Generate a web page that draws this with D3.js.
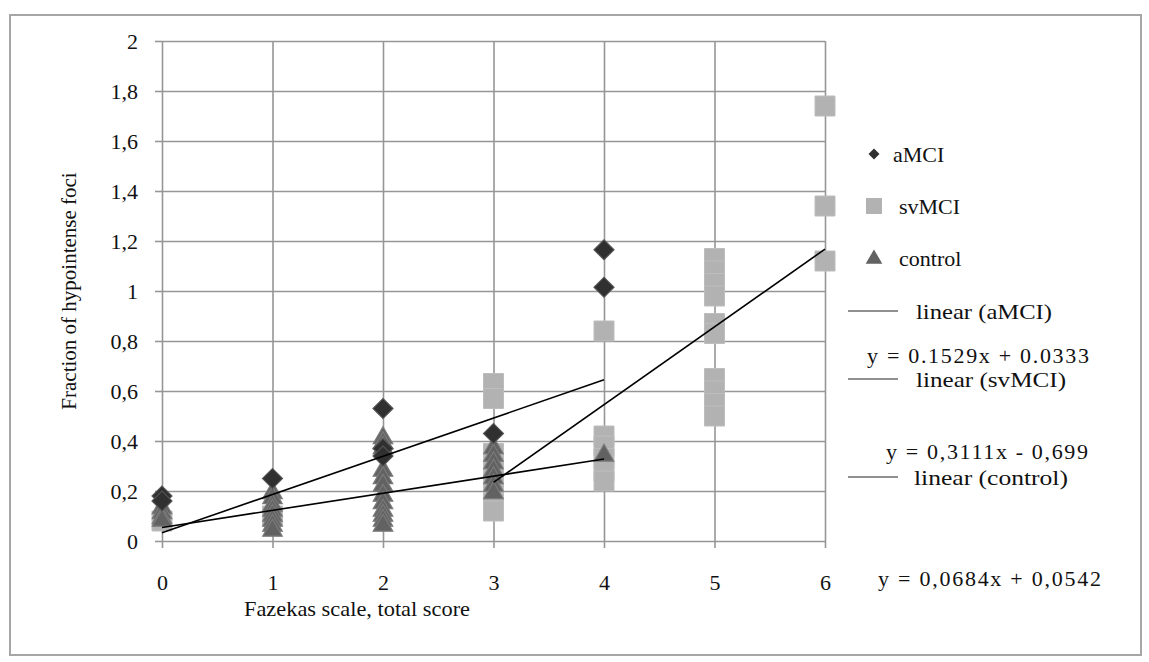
<!DOCTYPE html>
<html><head><meta charset="utf-8">
<script src="https://cdn.jsdelivr.net/npm/d3@7"></script>
<style>body{margin:0;background:#fff;} svg{display:block;} text{font-family:"Liberation Serif","Times New Roman",serif;fill:#111;}</style>
</head><body>
<svg id="c" width="1149" height="662"></svg>
<script>
const xTicks = [0,1,2,3,4,5,6];
const yTicks = [0,0.2,0.4,0.6,0.8,1,1.2,1.4,1.6,1.8,2];
const yTickLabels = ["0","0,2","0,4","0,6","0,8","1","1,2","1,4","1,6","1,8","2"];
const seriesNames = ["aMCI","svMCI","control"];
// [x, y] points per group
const aMCI = [[0,0.18],[0,0.16],[1,0.25],[2,0.53],[2,0.37],[2,0.34],[3,0.43],[4,1.165],[4,1.015]];
const svMCI = [[0,0.08],[1,0.10],[3,0.63],[3,0.57],[3,0.35],[3,0.30],[3,0.25],[3,0.20],[3,0.15],[3,0.12],
  [4,0.84],[4,0.42],[4,0.38],[4,0.33],[4,0.28],[4,0.24],
  [5,1.13],[5,1.08],[5,1.03],[5,0.98],[5,0.87],[5,0.83],[5,0.65],[5,0.60],[5,0.55],[5,0.50],
  [6,1.74],[6,1.34],[6,1.12]];
const control = [[0,0.14],[0,0.12],[0,0.10],[0,0.09],
  [1,0.20],[1,0.18],[1,0.15],[1,0.13],[1,0.11],[1,0.09],[1,0.07],[1,0.05],
  [2,0.42],[2,0.40],[2,0.38],[2,0.29],[2,0.26],[2,0.23],[2,0.19],[2,0.16],[2,0.13],[2,0.11],[2,0.09],[2,0.07],
  [3,0.38],[3,0.35],[3,0.32],[3,0.29],[3,0.26],[3,0.23],[3,0.20],[4,0.35]];
// trend lines: slope, intercept, x range
const trendNames = ["linear (aMCI)","linear (svMCI)","linear (control)"];
const trendEq = ["y = 0.1529x + 0.0333","y = 0,3111x - 0,699","y = 0,0684x + 0,0542"];
const trendSlope = [0.1529, 0.3111, 0.0684];
const trendIntercept = [0.0333, -0.699, 0.0542];
const trendRange = [[0,4],[3,6],[0,4]];

const svg = d3.select("#c");
const x = d3.scaleLinear().domain([0,6]).range([162,825]);
const y = d3.scaleLinear().domain([0,2]).range([541,41]);

// outer frame
svg.append("rect").attr("x",10).attr("y",15).attr("width",1131).attr("height",640)
  .attr("fill","none").attr("stroke","#a6a6a6").attr("stroke-width",2);

// grid
const gy = svg.append("g").attr("transform","translate(162,0)")
  .call(d3.axisLeft(y).tickValues(yTicks).tickSize(7).tickFormat((d,i)=>yTickLabels[i]));
gy.attr("font-family",null);
gy.select(".domain").remove();
gy.selectAll("line").attr("stroke","#969696").attr("stroke-width",1.6).attr("x2",-7);
gy.selectAll(".tick").append("line").attr("x1",0).attr("x2",663).attr("stroke","#969696").attr("stroke-width",1.6);
gy.selectAll("text").attr("x",-24).attr("dy","0.35em").style("font-size","22px");

const gx = svg.append("g").attr("transform","translate(0,541)")
  .call(d3.axisBottom(x).tickValues(xTicks).tickSize(7).tickFormat(d3.format("d")));
gx.attr("font-family",null);
gx.select(".domain").remove();
gx.selectAll("line").attr("stroke","#969696").attr("stroke-width",1.6);
gx.selectAll(".tick").append("line").attr("y1",0).attr("y2",-500).attr("stroke","#969696").attr("stroke-width",1.6);
gx.selectAll("text").attr("y",41).attr("dy","0.35em").style("font-size","22px");

// markers
const diamond = d3.symbol().type(d3.symbolSquare).size(200);
const square = d3.symbol().type(d3.symbolSquare).size(400);
const tri = d3.symbol().type(d3.symbolTriangle).size(165);

svg.append("g").selectAll("path").data(svMCI).join("path")
  .attr("d",square).attr("transform",d=>`translate(${x(d[0])},${y(d[1])})`)
  .attr("fill","#b2b2b2").attr("stroke","#bdbdbd").attr("stroke-width",1);
svg.append("g").selectAll("path").data(control).join("path")
  .attr("d",tri).attr("transform",d=>`translate(${x(d[0])},${y(d[1])+2})`)
  .attr("fill","#626262").attr("stroke","#7a7a7a").attr("stroke-width",1.2);
svg.append("g").selectAll("path").data(aMCI).join("path")
  .attr("d",diamond).attr("transform",d=>`translate(${x(d[0])},${y(d[1])}) rotate(45)`)
  .attr("fill","#303030").attr("stroke","#555").attr("stroke-width",1.2);

// trend lines
trendSlope.forEach((m,i)=>{
  const [a,b] = trendRange[i];
  svg.append("line").attr("x1",x(a)).attr("y1",y(m*a+trendIntercept[i]))
    .attr("x2",x(b)).attr("y2",y(m*b+trendIntercept[i]))
    .attr("stroke","#000").attr("stroke-width",1.6);
});

// legend
const legY = [154,206,258];
svg.append("path").attr("d",d3.symbol().type(d3.symbolSquare).size(60)).attr("transform",`translate(874,${legY[0]}) rotate(45)`).attr("fill","#303030");
svg.append("path").attr("d",d3.symbol().type(d3.symbolSquare).size(256)).attr("transform",`translate(874,${legY[1]})`).attr("fill","#b2b2b2");
svg.append("path").attr("d",d3.symbol().type(d3.symbolTriangle).size(120)).attr("transform",`translate(874,${legY[2]+1})`).attr("fill","#626262");
const legTextX = [893,899,899];
seriesNames.forEach((n,i)=>{
  svg.append("text").attr("x",legTextX[i]).attr("y",legY[i]).attr("dy","0.35em").style("font-size","22px").text(n);
});

const trendLineY = [311,379,477];
const trendTextX = [916,916,914];
const trendTextW = [136,150,154];
const eqY = [355,451,578];
const eqX = [867,886,878];
const eqW = [222,202,223];
trendNames.forEach((n,i)=>{
  svg.append("line").attr("x1",848).attr("x2",898).attr("y1",trendLineY[i]).attr("y2",trendLineY[i]).attr("stroke","#222").attr("stroke-width",1.2);
  svg.append("text").attr("x",trendTextX[i]).attr("y",trendLineY[i]).attr("dy","0.35em").style("font-size","22px")
    .attr("textLength",trendTextW[i]).attr("lengthAdjust","spacingAndGlyphs").text(n);
  svg.append("text").attr("x",eqX[i]).attr("y",eqY[i]).attr("dy","0.35em").style("font-size","22px")
    .attr("textLength",eqW[i]).attr("lengthAdjust","spacing").text(trendEq[i]);
});

// axis titles
svg.append("text").attr("transform","translate(76,291) rotate(-90)").attr("text-anchor","middle").style("font-size","21px").text("Fraction of hypointense foci");
svg.append("text").attr("x",357).attr("y",608).attr("text-anchor","middle").attr("dy","0.35em").style("font-size","22px")
  .attr("textLength",226).attr("lengthAdjust","spacingAndGlyphs").text("Fazekas scale, total score");
</script>
</body></html>
